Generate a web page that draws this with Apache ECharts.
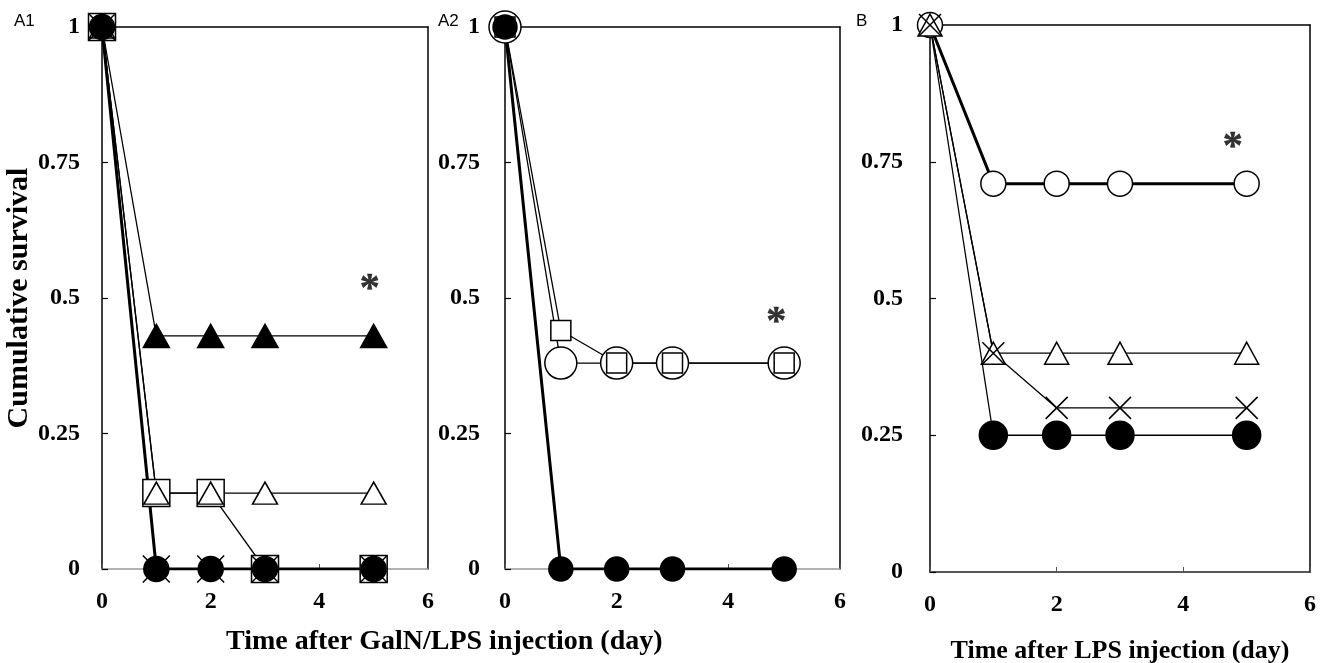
<!DOCTYPE html>
<html>
<head>
<meta charset="utf-8">
<script src="https://cdn.jsdelivr.net/npm/echarts@6/dist/echarts.min.js"></script>
<style>
  html, body { margin: 0; padding: 0; background: #fff; }
  #chart { width: 1337px; height: 663px; }
</style>
</head>
<body>
<div id="chart"></div>
<script>
// data
var days = [0, 1, 2, 3, 5];
var xTicks = [0, 2, 4, 6];
var yTicks = [0, 0.25, 0.5, 0.75, 1];

// A1 GalN/LPS
var a1FilledTri = [1, 0.43, 0.43, 0.43, 0.43];
var a1OpenSq = [1, 0.14, 0.14, 0, 0];
var a1OpenTri = [1, 0.14, 0.14, 0.14, 0.14];
var a1Cross = [1, 0, 0, 0, 0];
var a1FilledCirc = [1, 0, 0, 0, 0];
// A2 GalN/LPS
var a2OpenCirc = [1, 0.38, 0.38, 0.38, 0.38];
var a2OpenSq = [1, 0.44, 0.38, 0.38, 0.38];
var a2FilledCirc = [1, 0, 0, 0, 0];
// B LPS
var bOpenCirc = [1, 0.71, 0.71, 0.71, 0.71];
var bOpenTri = [1, 0.40, 0.40, 0.40, 0.40];
var bCross = [1, 0.40, 0.30, 0.30, 0.30];
var bFilledCirc = [1, 0.25, 0.25, 0.25, 0.25];

// significance marks [day, survival]
var starA1 = [4.93, 0.515];
var starA2 = [4.86, 0.455];
var starB = [4.78, 0.775];

var SERIF = 'Liberation Serif';
var CROSS = 'path://M0,0L10,10M0,10L10,0';

function pts(vals, hideFirst) {
  return days.map(function (d, i) {
    if (hideFirst && i === 0) return { value: [d, vals[i]], symbol: 'none' };
    return [d, vals[i]];
  });
}

function line(g, vals, symbol, size, filled, width, hideFirst) {
  return {
    type: 'line',
    xAxisIndex: g,
    yAxisIndex: g,
    data: pts(vals, hideFirst),
    symbol: symbol,
    symbolSize: size,
    showAllSymbol: true,
    lineStyle: { color: '#000', width: width },
    itemStyle: {
      color: filled ? '#000' : '#fff',
      borderColor: '#000',
      borderWidth: 1.5,
      opacity: 1
    },
    emphasis: { disabled: true },
    silent: true
  };
}

function cross(g, vals, size, width) {
  var s = line(g, vals, CROSS, size, true, width);
  s.itemStyle = { color: 'none', borderColor: '#000', borderWidth: 1.5 };
  return s;
}

function star(g, p) {
  return {
    type: 'scatter',
    xAxisIndex: g,
    yAxisIndex: g,
    data: [p],
    symbolSize: 1,
    itemStyle: { color: 'rgba(0,0,0,0)' },
    label: {
      show: true,
      position: 'inside',
      formatter: '*',
      fontFamily: SERIF,
      fontWeight: 'bold',
      fontSize: 40,
      color: '#000',
      textBorderColor: '#000',
      textBorderWidth: 0.5
    },
    silent: true
  };
}

var tickLabel = {
  fontFamily: SERIF,
  fontWeight: 'bold',
  fontSize: 24,
  color: '#000'
};

function bottomAxis(g, lineColor) {
  return {
    type: 'value',
    gridIndex: g,
    min: 0,
    max: 6,
    interval: 2,
    axisLine: { show: true, lineStyle: { color: lineColor, width: 1.5 } },
    axisTick: { show: true, inside: true, length: 5, lineStyle: { color: '#555', width: 1 } },
    axisLabel: Object.assign({ margin: 21, formatter: function (v) { return xTicks.indexOf(v) >= 0 ? String(v) : ''; } }, tickLabel),
    splitLine: { show: false }
  };
}

function leftAxis(g, margin) {
  return {
    type: 'value',
    gridIndex: g,
    min: 0,
    max: 1,
    interval: 0.25,
    axisLine: { show: true, lineStyle: { color: '#000', width: 1.5 } },
    axisTick: { show: true, inside: true, length: 6, lineStyle: { color: '#000', width: 1.2 } },
    axisLabel: Object.assign({ margin: margin, formatter: function (v) { return yTicks.indexOf(v) >= 0 ? String(v) : ''; } }, tickLabel),
    splitLine: { show: false }
  };
}

function frameAxis(g, pos, isX) {
  return {
    type: 'value',
    gridIndex: g,
    position: pos,
    min: 0,
    max: isX ? 6 : 1,
    axisLine: { show: true, onZero: false, lineStyle: { color: '#000', width: 1.5 } },
    axisTick: { show: false },
    axisLabel: { show: false },
    splitLine: { show: false }
  };
}

var xAxisA1 = bottomAxis(0, '#999');
var xAxisA2 = bottomAxis(1, '#999');
var xAxisB = bottomAxis(2, '#222');
xAxisB.name = 'Time after LPS injection (day)';
xAxisB.nameLocation = 'middle';
xAxisB.nameGap = 66;
xAxisB.nameTextStyle = { fontFamily: SERIF, fontWeight: 'bold', fontSize: 26, color: '#000' };

var yAxisA1 = leftAxis(0, 22);
yAxisA1.name = 'Cumulative survival';
yAxisA1.nameLocation = 'middle';
yAxisA1.nameRotate = 90;
yAxisA1.nameGap = 63;
yAxisA1.nameTextStyle = { fontFamily: SERIF, fontWeight: 'bold', fontSize: 30, color: '#000' };

var option = {
  animation: false,
  backgroundColor: '#fff',
  grid: [
    { left: 102, top: 27, width: 326, height: 542, outerBoundsMode: 'none' },
    { left: 505, top: 27, width: 335, height: 542, outerBoundsMode: 'none' },
    { left: 930, top: 25, width: 380, height: 547, outerBoundsMode: 'none' }
  ],
  xAxis: [
    xAxisA1, xAxisA2, xAxisB,
    frameAxis(0, 'top', true), frameAxis(1, 'top', true), frameAxis(2, 'top', true)
  ],
  yAxis: [
    yAxisA1, leftAxis(1, 25), leftAxis(2, 27),
    frameAxis(0, 'right', false), frameAxis(1, 'right', false), frameAxis(2, 'right', false)
  ],
  graphic: [
    { type: 'text', left: 14, top: 13, style: { text: 'A1', font: '17px "Liberation Sans"', fill: '#000' } },
    { type: 'text', left: 438, top: 13, style: { text: 'A2', font: '17px "Liberation Sans"', fill: '#000' } },
    { type: 'text', left: 856, top: 13, style: { text: 'B', font: '17px "Liberation Sans"', fill: '#000' } },
    {
      type: 'text', left: 226, top: 628,
      style: {
        text: 'Time after GalN/LPS injection (day)',
        font: 'bold 28px "Liberation Serif"',
        fill: '#000'
      }
    }
  ],
  series: [
    // A1
    line(0, a1FilledTri, 'triangle', [26, 23], true, 1.3),
    line(0, a1OpenSq, 'rect', 27, false, 1.3),
    line(0, a1OpenTri, 'triangle', [25, 22], false, 1.3),
    cross(0, a1Cross, 27, 1.3),
    line(0, a1FilledCirc, 'circle', 25, true, 3),
    star(0, starA1),
    // A2
    line(1, a2OpenCirc, 'circle', 32, false, 1.3),
    line(1, a2OpenSq, 'rect', 20, false, 1.3),
    line(1, a2FilledCirc, 'circle', 24, true, 3),
    star(1, starA2),
    // B
    line(2, bFilledCirc, 'circle', 28, true, 1.3, true),
    line(2, bOpenCirc, 'circle', 25, false, 3),
    line(2, bOpenTri, 'triangle', [24, 22], false, 1.3),
    cross(2, bCross, 22, 1.3),
    star(2, starB)
  ]
};

var myChart = echarts.init(document.getElementById('chart'));
myChart.setOption(option);
</script>
</body>
</html>
